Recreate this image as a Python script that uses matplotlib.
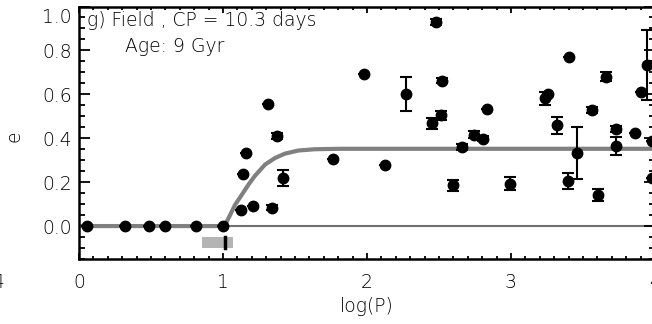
import numpy as np
import matplotlib
matplotlib.use("Agg")
import matplotlib.pyplot as plt
from matplotlib.transforms import ScaledTranslation

# circular orbits below the cutoff period
zero_logp = [0.056, 0.32, 0.486, 0.60, 0.81, 1.0]

# eccentric binaries: log(P), e, error
logp = [1.123, 1.141, 1.158, 1.21, 1.315, 1.343, 1.373, 1.414, 1.762, 1.979,
        2.125, 2.271, 2.453, 2.477, 2.512, 2.523, 2.595, 2.657, 2.745, 2.808,
        2.831, 2.993, 3.236, 3.26, 3.322, 3.394, 3.405, 3.456, 3.565, 3.606,
        3.658, 3.727, 3.727, 3.861, 3.903, 3.942, 3.977, 3.977]
ecc = [0.073, 0.239, 0.333, 0.092, 0.558, 0.083, 0.41, 0.219, 0.307, 0.693,
       0.277, 0.601, 0.468, 0.930, 0.505, 0.662, 0.185, 0.361, 0.417, 0.398,
       0.532, 0.193, 0.581, 0.60, 0.459, 0.206, 0.772, 0.333, 0.529, 0.142,
       0.68, 0.443, 0.364, 0.422, 0.612, 0.734, 0.387, 0.219]
err = [0.0, 0.0, 0.0, 0.0, 0.0, 0.012, 0.012, 0.035, 0.0, 0.0,
       0.0, 0.078, 0.025, 0.012, 0.02, 0.012, 0.025, 0.015, 0.017, 0.012,
       0.0, 0.029, 0.03, 0.0, 0.04, 0.036, 0.0, 0.12, 0.015, 0.029,
       0.02, 0.015, 0.04, 0.0, 0.0, 0.16, 0.0, 0.0]

# fitted circularisation curve
curve_x = [0.0, 1.0, 1.014, 1.049, 1.083, 1.13, 1.176, 1.222, 1.292, 1.361,
           1.431, 1.523, 1.639, 1.824, 4.0]
curve_e = [0.0, 0.0, 0.005, 0.05, 0.096, 0.142, 0.188, 0.229, 0.28, 0.31,
           0.33, 0.344, 0.35, 0.352, 0.352]

cp_days = 10.3
cp_range = [0.857, 1.07]

plt.rcParams['font.family'] = ['DejaVu Sans']
plt.rcParams['font.size'] = 13.5
plt.rcParams['font.weight'] = 'light'

fig = plt.figure(figsize=(6.52, 3.24), dpi=100)
ax = fig.add_axes([79/652, 1-259/324, (655-79)/652, (259-6.5)/324])

ax.axhline(0, color='#707070', lw=1.5, zorder=1)
ax.plot(curve_x, curve_e, color='#808080', lw=3, solid_capstyle='butt', zorder=2)

ax.fill_between(cp_range, -0.098, -0.052, color='#b4b4b4', lw=0, zorder=2)
ax.plot([np.log10(cp_days)]*2, [-0.098, -0.052], color='black', lw=2.5, zorder=3)

ax.errorbar(zero_logp, [0.0]*len(zero_logp), yerr=0.0, fmt='o', color='black',
            ms=7.5, capsize=4, elinewidth=1.5, capthick=1.5, zorder=4)
ax.errorbar(logp, ecc, yerr=err, fmt='o', color='black', ms=7.5, capsize=4,
            elinewidth=1.5, capthick=1.5, zorder=4)

ax.set_xlim(0, 4.0)
ax.set_ylim(-0.15, 1.0)
ax.set_xticks([0, 1, 2, 3, 4])
ax.set_xticks(np.arange(0, 4.01, 0.1), minor=True)
ax.set_yticks([0.0, 0.2, 0.4, 0.6, 0.8, 1.0])
ax.set_yticks(np.arange(-0.15, 1.001, 0.05), minor=True)
ax.set_yticklabels(['0.0', '0.2', '0.4', '0.6', '0.8', '1.0'])
ax.tick_params(which='both', direction='in', top=True, right=True, width=1.3)
ax.tick_params(axis='x', which='major', length=4, pad=10)
ax.tick_params(axis='x', which='minor', length=2)
ax.tick_params(axis='y', which='major', length=8, pad=5)
ax.tick_params(axis='y', which='minor', length=4)
for s in ax.spines.values():
    s.set_linewidth(1.8)

# keep the top label inside the picture like the original
lbl = ax.get_yticklabels()[-1]
lbl.set_transform(lbl.get_transform() + ScaledTranslation(0, -0.09, fig.dpi_scale_trans))

fig.text(367/652, 1-306/324, 'log(P)', ha='center', va='center')
fig.text(14/652, 1-136/324, 'e', ha='center', va='center', rotation=90)
# tick label of the neighbouring panel, cut by the edge as in the original
fig.text(4/652, 1-283/324, '4', ha='right', va='center')

fig.text(87/652, 1-20/324, 'g) Field , CP = 10.3 days', ha='left', va='center')
fig.text(125/652, 1-46/324, 'Age: 9 Gyr', ha='left', va='center')

fig.savefig('out.png', dpi=100)
